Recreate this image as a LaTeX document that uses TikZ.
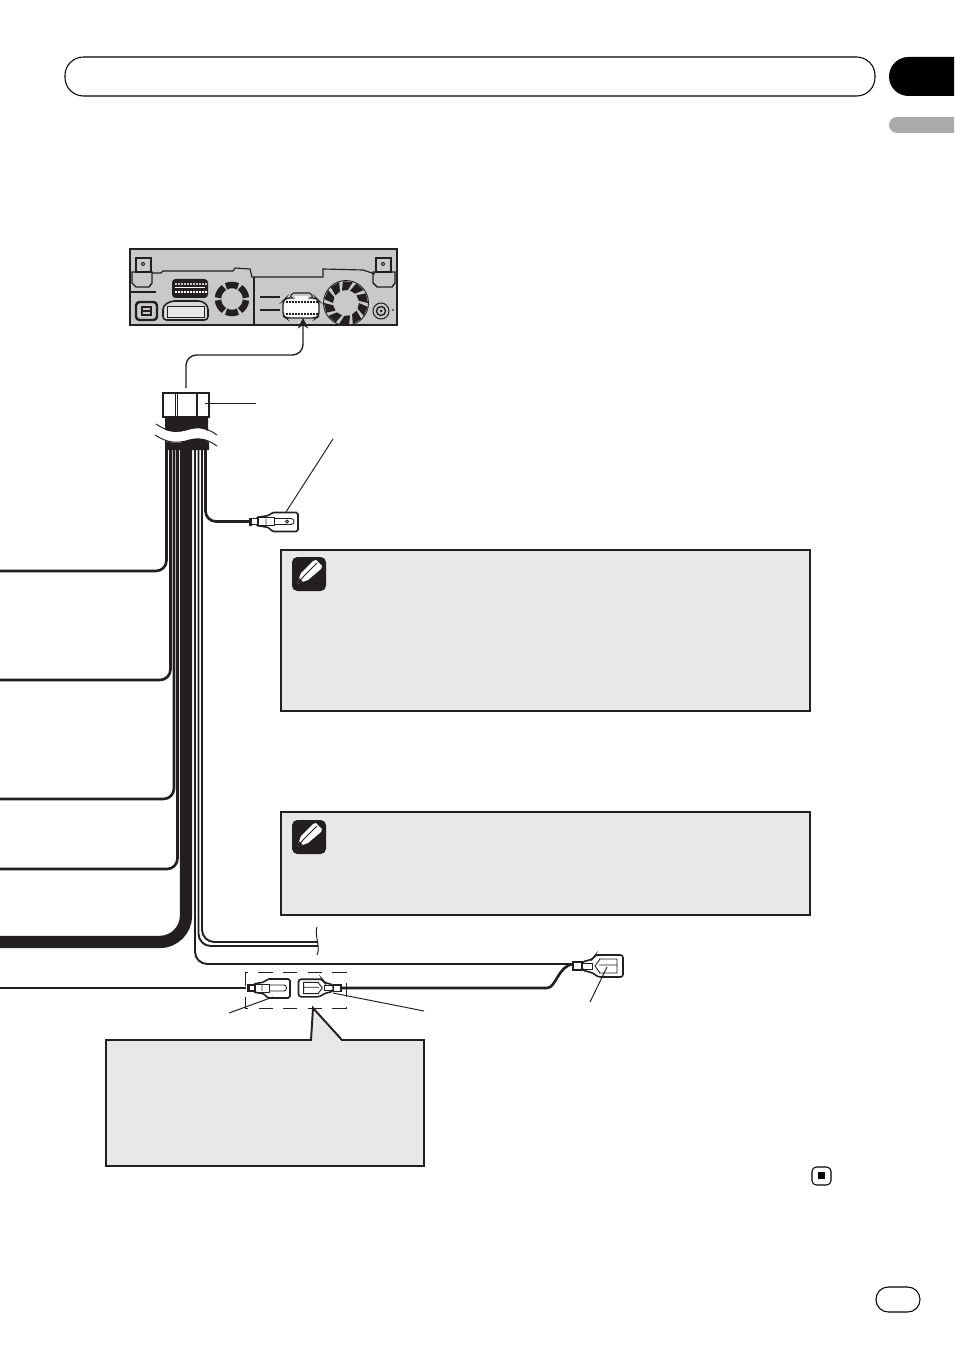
\documentclass[tikz,border=0pt]{standalone}
\usetikzlibrary{arrows.meta}
\definecolor{inkblack}{HTML}{231F20}
\definecolor{notegray}{HTML}{E8E8E8}
\definecolor{panelgray}{HTML}{C9C9C9}
\definecolor{tabgray}{HTML}{ABABAB}
\tikzset{
  wire/.style={inkblack, line width=1.5pt, rounded corners=6pt},
  thinwire/.style={inkblack, line width=1.1pt, rounded corners=7pt},
  leader/.style={inkblack, line width=0.55pt},
  notebox/.style={fill=notegray, draw=inkblack, line width=1.1pt},
  panelline/.style={inkblack, line width=0.65pt},
  pics/malepin/.style={code={
    \draw[inkblack, fill=white, line width=0.9pt, rounded corners=1pt] (6,-4) -- (19,-6) -- (22,-9) -- (48,-9) -- (48,10) -- (22,10) -- (19,6) -- (6,4) -- cycle;
    \draw[inkblack, fill=white, line width=0.6pt] (1,-3) rectangle (8,3);
    \fill[inkblack] (-1,-4) rectangle (2,4);
    \draw[inkblack, line width=0.5pt] (8,-4) rectangle (24,4);
    \draw[inkblack, line width=0.5pt] (16,-3) -- (16,3) (24,-3) -- (41,-3) .. controls (45,-3) and (45,3) .. (41,3) -- (24,3);
  }},
  pics/femalepin/.style={code={
    \draw[inkblack, fill=white, line width=0.9pt, rounded corners=1.5pt] (9,-4) -- (20,-7) -- (22,-11) -- (50,-11) -- (50,11) -- (25,11) -- (20,7) -- (9,4) -- cycle;
    \draw[inkblack, fill=white, line width=0.8pt] (0,-4) rectangle (9,4);
    \draw[inkblack, line width=0.5pt] (9,-3) rectangle (19,3);
    \draw[inkblack, line width=0.5pt] (26,-7) -- (44,-7) -- (44,7) -- (26,7) (27,-7) -- (22,0) -- (27,7) (26,-1) -- (44,-1);
  }},
  pics/noteicon/.style={code={
    \fill[inkblack, rounded corners=3pt] (292,557) rectangle (326,591);
    \fill[white] (297,584) -- (301,573) -- (313,561) -- (316,560) -- (322,566) -- (321,569) -- (308,580) -- cycle;
    \draw[inkblack, line width=0.5pt] (297,584) -- (304,576) -- (317,563);
    \fill[inkblack] (297,584) -- (299,578) -- (303,582) -- cycle;
  }}
}
\begin{document}
\begin{tikzpicture}[x=0.02cm, y=-0.02cm]
\useasboundingbox (0,0) rectangle (954,1351);

% page furniture
\draw[line width=0.6pt, rounded corners=10.5pt] (65,57) rectangle (875,96);
\fill (954,57) -- (908.5,57) arc (270:90:19.5) -- (954,96) -- cycle;
\fill[tabgray] (954,117) -- (897,117) arc (270:90:8) -- (954,133) -- cycle;
\draw[line width=0.6pt, rounded corners=7pt] (876,1287) rectangle (920,1312);
\draw[line width=0.6pt, rounded corners=2.5pt] (812,1167) rectangle (831,1185);
\fill (818,1172) rectangle (825,1179);

% rear panel of the unit
\draw[fill=panelgray, draw=inkblack, line width=1.1pt] (130,249) rectangle (397,325);
\draw[panelline] (131,292) -- (141,292);
\draw[panelline] (152,273) -- (161,273) -- (163,271) -- (233,271) -- (235,268) -- (250,269) -- (252,277) -- (323,277) -- (323,269) -- (363,270) -- (375,274);
\draw[panelline] (254,277) -- (254,325);
\foreach \tabx in {136,376}{
  \draw[panelline] (\tabx,258) rectangle (\tabx+15,272);
  \fill[inkblack] (\tabx+7,264) circle (2);
  \fill[panelgray] (\tabx+7,264) circle (0.8);
}
\draw[inkblack, line width=0.8pt] (132,272) -- (152,272) -- (152,283) -- (149,287) -- (136,287) -- (132,283) -- cycle;
\draw[inkblack, line width=0.8pt] (373,272) -- (395,272) -- (395,283) -- (392,287) -- (377,287) -- (373,283) -- cycle;
\draw[inkblack, line width=1pt] (141,292) -- (156,292);
\draw[inkblack, fill=panelgray, line width=1.4pt, rounded corners=2pt] (136,302) rectangle (157,320);
\fill[inkblack] (141,306) rectangle (152,316);
\draw[panelgray, line width=0.8pt] (143,309) -- (150,309) (143,313) -- (150,313);

\fill[inkblack, rounded corners=2pt] (172,279) rectangle (208,298);
\foreach \pinx in {175,178,...,205}{
  \fill[panelgray] (\pinx,283) rectangle (\pinx+1.5,285);
  \fill[white] (\pinx,291) rectangle (\pinx+1.5,293);
}
\fill[white] (175,287) rectangle (205,288);
\draw[inkblack, fill=panelgray!70, line width=0.9pt, rounded corners=2pt] (163,306) -- (171,301) -- (202,301) -- (208,306) -- (208,320) -- (163,320) -- cycle;
\draw[inkblack, line width=0.5pt, fill=panelgray!40] (167,306) rectangle (204,317);

\foreach \ang in {5,65,...,305}{
  \draw[inkblack, line width=3.7pt] ([shift={(\ang:14)}]232,299) arc (\ang:\ang+50:14);
}
\foreach \ang in {0,36,...,324}{
  \fill[inkblack] ([shift={(\ang:13)}]346,303) -- ([shift={(\ang+26:13)}]346,303) -- ([shift={(\ang+36:22)}]346,303) -- ([shift={(\ang+10:22)}]346,303) -- cycle;
}
\draw[inkblack, line width=0.5pt] (346,303) circle (22.5);
\draw[inkblack, line width=1pt] (260,297) -- (280,297) (260,310) -- (280,310);

\draw[inkblack, fill=panelgray, line width=0.6pt, rounded corners=1pt] (290,298) -- (292,293) -- (311,293) -- (313,298) -- cycle;
\draw[inkblack, fill=white, line width=0.8pt, rounded corners=2pt] (283,301) -- (286,298) -- (316,298) -- (319,301) -- (319,316) -- (316,318) -- (286,318) -- (283,316) -- cycle;
\fill[panelgray] (293,294) rectangle (310,298);
\fill[white] (295,296) rectangle (308,300);
\foreach \pinx in {286,289,...,316}{
  \fill[inkblack] (\pinx,301.5) rectangle (\pinx+1.5,303.5);
  \fill[inkblack] (\pinx,313) rectangle (\pinx+1.5,315);
}
\draw[inkblack, line width=0.6pt] (381,311) circle (8);
\draw[inkblack, line width=0.8pt] (381,311) circle (4.5);
\fill[inkblack] (381,311) circle (1.5);
\fill[inkblack] (393,310) circle (1);

% plug at the head of the harness
\coordinate (plugtop) at (186,388);
\coordinate (unitsocket) at (303,318);
\draw[inkblack, line width=0.8pt, rounded corners=6pt, -{Stealth[length=6pt,width=6pt]}] (plugtop) -- (186,355) -- (303,355) -- (unitsocket);
\draw[inkblack, fill=white, line width=0.9pt] (163,393) rectangle (209,417);
\draw[inkblack, line width=0.5pt] (175,393) -- (175,417) (177,393) -- (177,417);
\draw[inkblack, line width=0.9pt] (197,393) -- (197,417);
\draw[leader] (205,403) -- (256,403);

\fill[inkblack] (165,417) -- (208,417) -- (208,431) .. controls (203,427) and (195,427) .. (186,430) .. controls (178,433) and (172,432) .. (165,430) -- cycle;
\fill[inkblack] (165,450) -- (209,450) -- (209,442) .. controls (203,438) and (195,438) .. (186,441) .. controls (178,444) and (172,443) .. (165,441) -- cycle;
\draw[leader] (156,424) .. controls (165,430) and (172,433) .. (186,430) .. controls (195,427) and (205,426) .. (217,435);
\draw[leader] (155,435) .. controls (165,441) and (172,444) .. (186,441) .. controls (195,438) and (205,437) .. (217,446);

% wires leaving the harness
\coordinate (tapa) at (166.5,449);
\coordinate (tapb) at (170.5,449);
\coordinate (tapc) at (174,449);
\coordinate (tapd) at (177.5,449);
\coordinate (tapmain) at (186,449);
\coordinate (tape) at (195,449);
\coordinate (tapf) at (198.5,449);
\coordinate (tapg) at (202,449);
\coordinate (taph) at (205.5,449);
\coordinate (leftwirea) at (0,571);
\coordinate (leftwireb) at (0,680);
\coordinate (leftwirec) at (0,799);
\coordinate (leftwired) at (0,869);
\coordinate (leftmain) at (0,942);
\coordinate (spadewire) at (250,521.5);
\coordinate (lowerend) at (573,964);
\coordinate (cutf) at (318,946);
\coordinate (cutg) at (318,942);

\draw[wire] (tapa) -- (tapa |- leftwirea) -- (leftwirea);
\draw[wire] (tapb) -- (tapb |- leftwireb) -- (leftwireb);
\draw[wire] (tapc) -- (tapc |- leftwirec) -- (leftwirec);
\draw[wire] (tapd) -- (tapd |- leftwired) -- (leftwired);
\draw[inkblack, line width=7pt, rounded corners=15pt] (tapmain) -- (tapmain |- leftmain) -- (leftmain);
\draw[thinwire] (tape) -- (tape |- lowerend) -- (lowerend);
\draw[thinwire] (tapf) -- (tapf |- cutf) -- (cutf);
\draw[thinwire] (tapg) -- (tapg |- cutg) -- (cutg);
\draw[wire] (taph) -- (taph |- spadewire) -- (spadewire);
\draw[leader] (317,927) .. controls (314,935) and (321,947) .. (317,955);

% terminals
\pic at (250,521.5) {malepin};
\draw[inkblack, line width=0.5pt] (287,521.5) circle (1.5);
\draw[leader] (286,512) -- (333,439);

\coordinate (farleft) at (0,988);
\coordinate (malein) at (246,988);
\draw[wire] (farleft) -- (malein);
\pic[xscale=0.875] at (248,988) {malepin};
\draw[leader] (229,1013) -- (273,997);

\pic[xscale=-0.85, yscale=0.8] at (341,988) {femalepin};
\coordinate (femaleout) at (341,988);
\coordinate (curvestart) at (547,988);
\draw[inkblack, line width=1.5pt] (femaleout) -- (curvestart) .. controls (556,988) and (558,966) .. (lowerend);
\draw[leader] (333,993) -- (424,1011);

\pic at (573,966) {femalepin};
\draw[leader] (590,1002) -- (607,967);

% dashed frame and its callout
\draw[inkblack, line width=0.55pt, dash pattern=on 8pt off 6pt] (245.5,972) rectangle (346,1008);
\draw[notebox] (106,1040) -- (311,1040) -- (313,1008) -- (342,1040) -- (424,1040) -- (424,1166) -- (106,1166) -- cycle;

% note boxes
\draw[notebox] (281,550) rectangle (810,711);
\draw[notebox] (281,812) rectangle (810,915);
\pic at (0,0) {noteicon};
\pic at (0,263) {noteicon};
\end{tikzpicture}
\end{document}
